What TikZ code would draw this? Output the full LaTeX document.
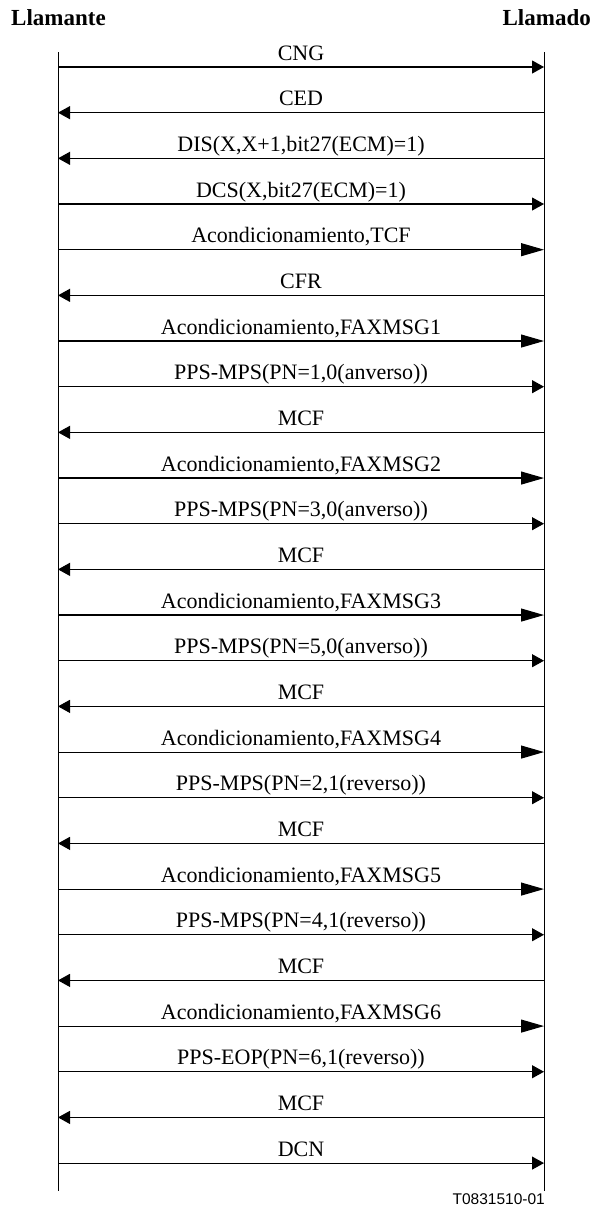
\documentclass[tikz,border=0pt]{standalone}
\usepackage{fontspec}
\setmainfont{Liberation Serif}
\newfontfamily\labsans{Liberation Sans}
\usetikzlibrary{arrows.meta}
\begin{document}
\begin{tikzpicture}[x=1pt,y=-1pt,
  life/.style={line width=1pt},
  sm/.style={line width=1.1pt,-{Triangle[length=12pt,width=13pt]}},
  bg/.style={line width=1.1pt,-{Triangle[length=23pt,width=13pt]}},
  lbl/.style={midway,anchor=base,yshift=7pt,inner sep=0pt,font=\fontsize{22}{26}\selectfont},
  hdr/.style={inner sep=0pt,font=\fontsize{23}{27}\selectfont\bfseries},
  tag/.style={inner sep=0pt,font=\labsans\fontsize{15.5}{18}\selectfont}]
\useasboundingbox (0,0) rectangle (592,1211);
\node[hdr,anchor=base west] (hA) at (11,25) {Llamante};
\node[hdr,anchor=base east] (hB) at (591,25) {Llamado};
\coordinate (Ltop) at (58,52);
\coordinate (Lbot) at (58,1191);
\coordinate (Rtop) at (544,52);
\coordinate (Rbot) at (544,1191);
\draw[life] (Ltop) -- (Lbot);
\draw[life] (Rtop) -- (Rbot);
\foreach \i/\a/\b/\s/\t in {
  1/L/R/sm/{CNG},
  2/R/L/sm/{CED},
  3/R/L/sm/{DIS(X,X+1,bit27(ECM)=1)},
  4/L/R/sm/{DCS(X,bit27(ECM)=1)},
  5/L/R/bg/{Acondicionamiento,TCF},
  6/R/L/sm/{CFR},
  7/L/R/bg/{Acondicionamiento,FAXMSG1},
  8/L/R/sm/{PPS-MPS(PN=1,0(anverso))},
  9/R/L/sm/{MCF},
  10/L/R/bg/{Acondicionamiento,FAXMSG2},
  11/L/R/sm/{PPS-MPS(PN=3,0(anverso))},
  12/R/L/sm/{MCF},
  13/L/R/bg/{Acondicionamiento,FAXMSG3},
  14/L/R/sm/{PPS-MPS(PN=5,0(anverso))},
  15/R/L/sm/{MCF},
  16/L/R/bg/{Acondicionamiento,FAXMSG4},
  17/L/R/sm/{PPS-MPS(PN=2,1(reverso))},
  18/R/L/sm/{MCF},
  19/L/R/bg/{Acondicionamiento,FAXMSG5},
  20/L/R/sm/{PPS-MPS(PN=4,1(reverso))},
  21/R/L/sm/{MCF},
  22/L/R/bg/{Acondicionamiento,FAXMSG6},
  23/L/R/sm/{PPS-EOP(PN=6,1(reverso))},
  24/R/L/sm/{MCF},
  25/L/R/sm/{DCN}} {
  \coordinate (L\i) at (58,{67+(\i-1)*45.67});
  \coordinate (R\i) at (544,{67+(\i-1)*45.67});
  \draw[\s] (\a\i) -- node[lbl] (m\i) {\t} (\b\i);
}
\node[tag,anchor=base east] (tag) at (545,1204) {T0831510-01};
\end{tikzpicture}
\end{document}
